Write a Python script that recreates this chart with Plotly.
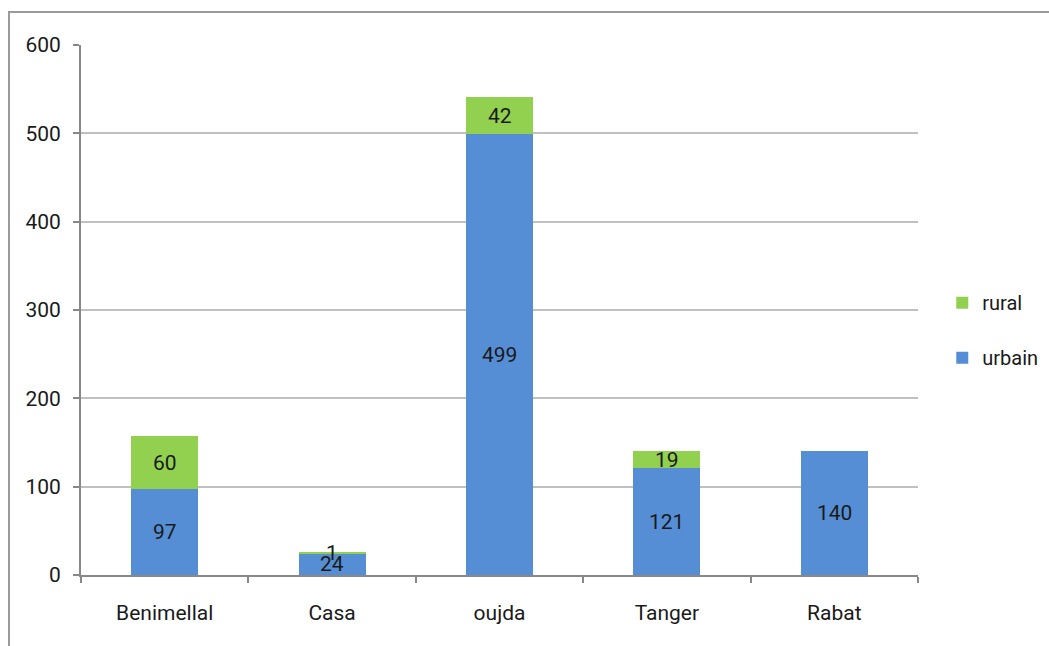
import plotly.graph_objects as go

# Data: counts per city, split urban / rural
villes = ["Benimellal", "Casa", "oujda", "Tanger", "Rabat"]
urbain = [97, 24, 499, 121, 140]
rural = [60, 1, 42, 19, 0]
y_ticks = [0, 100, 200, 300, 400, 500, 600]

BLUE = "#558ed5"
GREEN = "#92d050"
FONT = "Liberation Sans Narrow, Arial Narrow, Roboto, sans-serif"

fig = go.Figure()
fig.add_trace(go.Bar(x=villes, y=urbain, name="urbain", marker=dict(color=BLUE, line=dict(width=0)),
                     legendgroup="u", legendrank=2))
fig.add_trace(go.Bar(x=villes, y=rural, name="rural", marker=dict(color=GREEN, line=dict(width=0)),
                     legendgroup="r", legendrank=1))

# Value labels centred in each segment
for v, u, r in zip(villes, urbain, rural):
    fig.add_annotation(x=v, y=u / 2, text=str(u), showarrow=False,
                       font=dict(family=FONT, size=21, color="#1a1a1a"))
    if r > 0:
        fig.add_annotation(x=v, y=u + r / 2, text=str(r), showarrow=False,
                           font=dict(family=FONT, size=21, color="#1a1a1a"))

# Outer chart frame
fig.add_shape(type="rect", xref="paper", yref="paper",
              x0=(9 - 81) / 837, x1=(1060 - 81) / 837,
              y0=(575 - 660) / 530, y1=(575 - 12) / 530,
              line=dict(color="#9a9a9a", width=2), layer="below")

fig.update_layout(
    barmode="stack",
    bargap=0.6,
    width=1049, height=646,
    margin=dict(l=81, r=131, t=45, b=71, autoexpand=False),
    plot_bgcolor="white", paper_bgcolor="white",
    font=dict(family=FONT, size=21, color="#1a1a1a"),
    legend=dict(x=1.029, y=0.462, xanchor="left", yanchor="middle",
                traceorder="grouped", tracegroupgap=26,
                font=dict(family=FONT, size=20), itemwidth=30),
    xaxis=dict(showline=True, linecolor="#888888", linewidth=2,
               ticks="outside", ticklen=6, tickcolor="#888888", tickwidth=2,
               tickson="boundaries", showgrid=False, ticklabelstandoff=18),
    yaxis=dict(range=[0, 600], tickvals=y_ticks, showline=True,
               linecolor="#888888", linewidth=2, ticks="outside", ticklen=6,
               tickcolor="#888888", tickwidth=2,
               showgrid=True, gridcolor="#c0c0c0", gridwidth=2, zeroline=False,
               ticklabelstandoff=8),
)

fig.write_html("out.html")
